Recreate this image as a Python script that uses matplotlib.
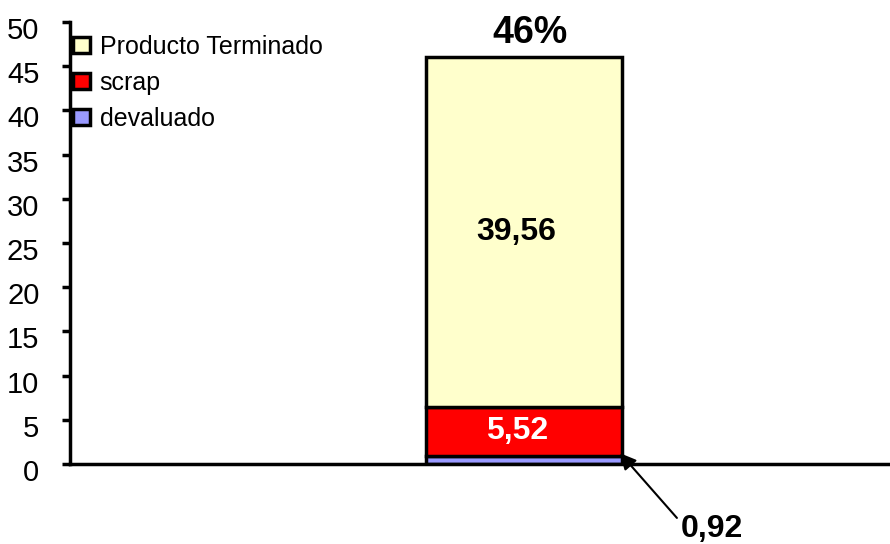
import numpy as np
import matplotlib.pyplot as plt
import matplotlib.transforms as mtransforms

plt.rcParams['font.family'] = ['Liberation Sans', 'DejaVu Sans']

# datos
categorias = ['']
devaluado = [0.92]
scrap = [5.52]
terminado = [39.56]
total_pct = ['46%']
series = ['Producto Terminado', 'scrap', 'devaluado']
colores = {'Producto Terminado': '#ffffcc', 'scrap': '#ff0000', 'devaluado': '#9999ff'}
yticks = np.arange(0, 51, 5)

fig = plt.figure(figsize=(8.9, 5.44), dpi=100)
ax = fig.add_axes([70 / 890, 80 / 544, 820 / 890, 442 / 544])

x = np.arange(len(categorias))
w = 1.0
b1 = ax.bar(x, devaluado, w, color=colores['devaluado'], edgecolor='black', linewidth=2.5, label='devaluado')
b2 = ax.bar(x, scrap, w, bottom=devaluado, color=colores['scrap'], edgecolor='black', linewidth=2.5, label='scrap')
base = np.array(devaluado) + np.array(scrap)
b3 = ax.bar(x, terminado, w, bottom=base, color=colores['Producto Terminado'], edgecolor='black',
            linewidth=2.5, label='Producto Terminado')

ax.set_xlim(-2.316, 1.867)
ax.set_ylim(0, 50)
ax.set_yticks(yticks)
ax.set_yticklabels([str(v) for v in yticks], fontsize=21)
ax.set_xticks([])
ax.tick_params(axis='y', direction='out', length=6, width=2.5, pad=16)
# etiquetas del eje un poco hacia abajo, como en el original
desplaz = mtransforms.ScaledTranslation(0, -6 / 100, fig.dpi_scale_trans)
for lbl in ax.get_yticklabels():
    lbl.set_transform(lbl.get_transform() + desplaz)

for s in ['top', 'right']:
    ax.spines[s].set_visible(False)
ax.spines['left'].set_linewidth(2.5)
ax.spines['bottom'].set_linewidth(2.5)

# etiquetas
for i in x:
    ax.text(i - 0.04, base[i] + terminado[i] / 2, f"{terminado[i]:.2f}".replace('.', ','),
            ha='center', va='center', fontsize=23, fontweight='bold')
    ax.text(i - 0.035, devaluado[i] + scrap[i] / 2, f"{scrap[i]:.2f}".replace('.', ','),
            ha='center', va='center', fontsize=23, fontweight='bold', color='white')
    ax.text(i + 0.03, base[i] + terminado[i] + 1.6, total_pct[i],
            ha='center', va='baseline', fontsize=27, fontweight='bold')
    ax.annotate('', xy=(i + 0.49, devaluado[i] + 0.3), xytext=(i + 0.78, -6.1),
                annotation_clip=False,
                arrowprops=dict(arrowstyle='-|>', color='black', lw=1.5, mutation_scale=24,
                                shrinkA=0, shrinkB=0))
    ax.text(i + 0.96, -7.3, f"{devaluado[i]:.2f}".replace('.', ','), ha='center', va='center',
            fontsize=23, fontweight='bold', clip_on=False)

handles = [b3, b2, b1]
leg = ax.legend(handles, series, loc='upper left', bbox_to_anchor=(0.004, 0.971), frameon=False,
                fontsize=18, handlelength=0.65, handleheight=0.65, handletextpad=0.4,
                labelspacing=0.48, borderaxespad=0, borderpad=0)

fig.savefig('out.png', dpi=100)
